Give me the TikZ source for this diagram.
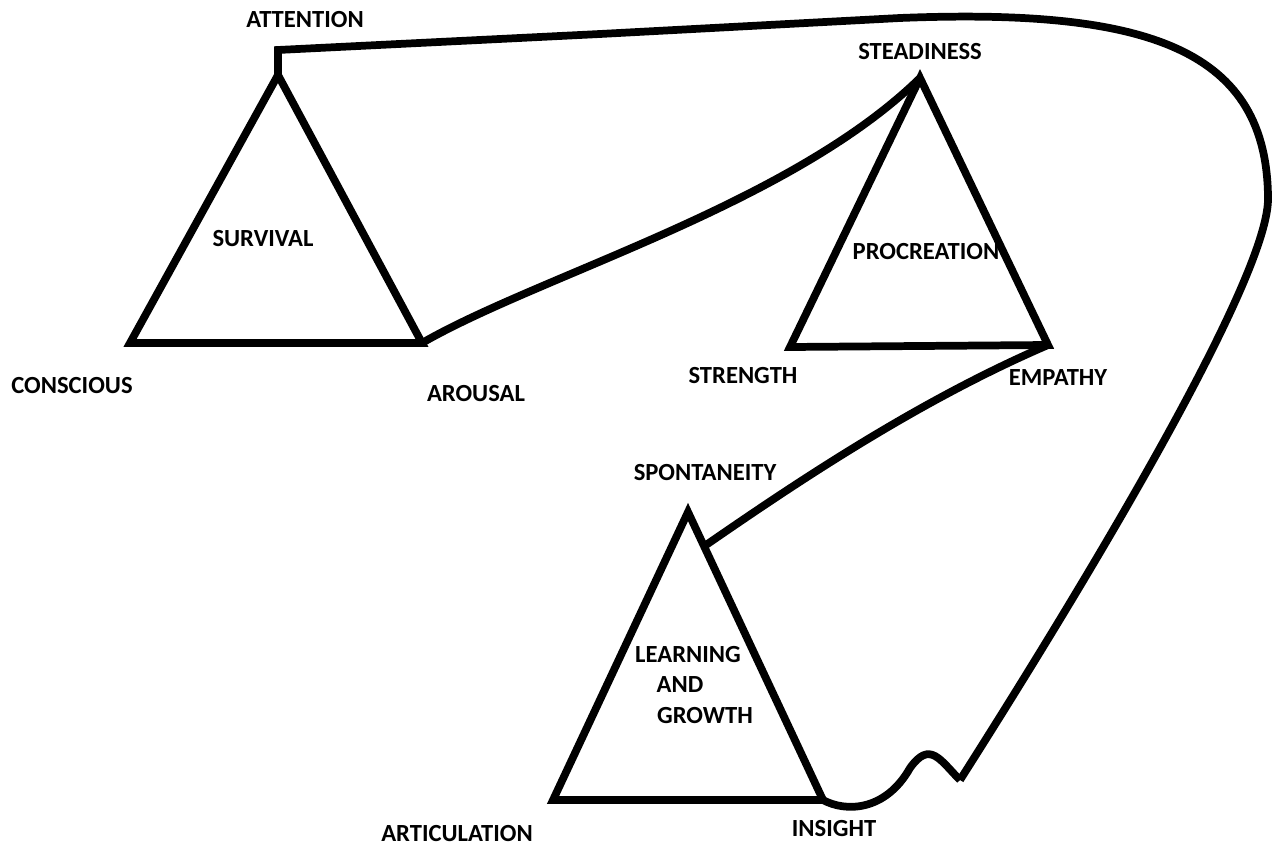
\documentclass[tikz,border=0pt]{standalone}
\usepackage{fontspec}
\setmainfont{Carlito}
\begin{document}
\begin{tikzpicture}[x=0.01cm, y=-0.01cm, line width=2.2pt,
    lbl/.style={font=\fontsize{7}{8}\selectfont\bfseries, inner sep=0pt}]
        \useasboundingbox (0, 0) rectangle (1277, 846);

        % corners
        \coordinate (att) at (278, 75);
        \coordinate (con) at (130, 343);
        \coordinate (aro) at (422, 343);
        \coordinate (ste) at (920, 78);
        \coordinate (str) at (790, 347);
        \coordinate (emp) at (1048, 345);
        \coordinate (spo) at (688, 512);
        \coordinate (art) at (553, 800);
        \coordinate (ins) at (823, 800);
        \coordinate (spoedge) at (706, 545);
        \coordinate (tail) at (960, 780);

        % labels
        \node[lbl] (attention) at (305, 20) {ATTENTION};
        \node[lbl] (steadiness) at (920, 52) {STEADINESS};
        \node[lbl] (survival) at (263, 239) {SURVIVAL};
        \node[lbl] (procreation) at (926, 252) {PROCREATION};
        \node[lbl] (conscious) at (72, 386) {CONSCIOUS};
        \node[lbl] (arousal) at (476, 394) {AROUSAL};
        \node[lbl] (strength) at (743, 376) {STRENGTH};
        \node[lbl] (empathy) at (1058, 378) {EMPATHY};
        \node[lbl] (spontaneity) at (705, 473) {SPONTANEITY};
        \node[lbl] (learning) at (688, 655) {LEARNING};
        \node[lbl] (and) at (680, 685) {AND};
        \node[lbl] (growth) at (705, 716) {GROWTH};
        \node[lbl] (articulation) at (457, 834) {ARTICULATION};
        \node[lbl] (insight) at (834, 828) {INSIGHT};

        % triangles
        \draw (att) -- (con) -- (aro) -- cycle;
        \draw (ste) -- (str) -- (emp) -- cycle;
        \draw (spo) -- (art) -- (ins) -- cycle;

        % links
        \draw (aro) .. controls (540, 275) and (790, 205) .. (ste);
        \draw (emp) .. controls (920, 400) and (800, 480) .. (spoedge);
        \draw (att) -- (278, 50) -- (600, 34) -- (900, 18)
            .. controls (1150, 8) and (1268, 50) .. (1268, 200)
            .. controls (1266, 280) and (1100, 560) .. (tail);
        \draw (ins) .. controls (845, 812) and (885, 812) .. (910, 768)
            .. controls (930, 740) and (940, 760) .. (tail);
\end{tikzpicture}
\end{document}
